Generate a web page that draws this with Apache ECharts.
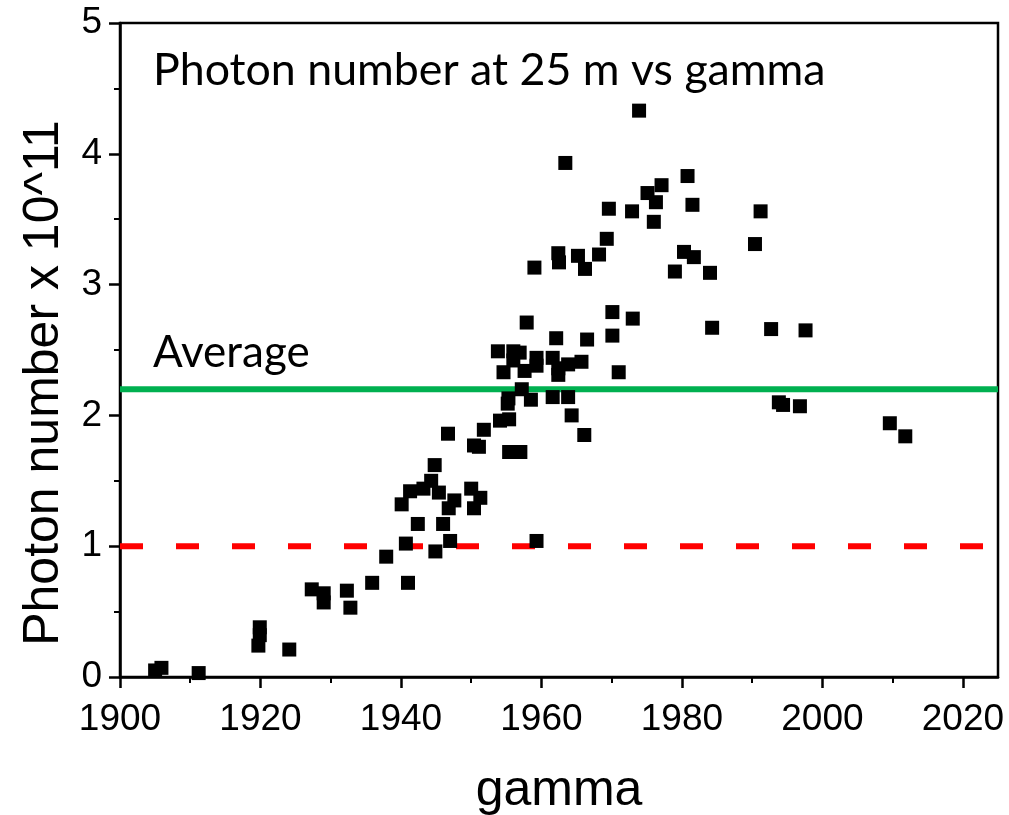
<!DOCTYPE html>
<html>
<head>
<meta charset="utf-8">
<script src="https://cdn.jsdelivr.net/npm/echarts@6/dist/echarts.min.js"></script>
<style>
  html, body { margin: 0; padding: 0; background: #fff; }
  #chart { width: 1009px; height: 815px; }
</style>
</head>
<body>
<div id="chart"></div>
<script>
// Measured photon numbers (in units of 10^11) at 25 m, one entry per gamma value
const gammaValues = [
  1905.0, 1905.9, 1911.2, 1919.9, 1919.9, 1919.7, 1924.1, 1927.3, 1929.0, 1929.0,
  1932.3, 1932.8, 1935.9, 1937.9, 1940.1, 1940.7, 1941.0, 1941.3, 1942.4, 1943.2,
  1944.3, 1944.8, 1944.9, 1945.4, 1946.0, 1946.7, 1946.8, 1947.0, 1947.6, 1950.0,
  1950.4, 1950.4, 1951.1, 1951.3, 1951.8, 1953.8, 1954.1, 1954.6, 1955.2, 1955.3,
  1955.4, 1955.4, 1956.0, 1956.0, 1956.9, 1957.0, 1957.2, 1957.6, 1957.9, 1958.5,
  1959.0, 1959.3, 1959.3, 1959.3, 1961.6, 1961.6, 1962.1, 1962.4, 1962.5, 1962.4,
  1962.4, 1963.4, 1963.8, 1963.8, 1964.3, 1965.2, 1965.7, 1966.1, 1966.2, 1966.5,
  1968.2, 1969.3, 1969.6, 1970.1, 1970.1, 1971.0, 1972.9, 1973.0, 1973.9, 1975.1,
  1976.0, 1976.3, 1977.1, 1979.0, 1980.3, 1980.8, 1981.5, 1981.7, 1984.0, 1984.3,
  1990.4, 1991.2, 1992.7, 1993.8, 1994.4, 1996.8, 1997.6, 2009.6, 2011.8
];
const photonNumbers = [
  0.05, 0.07, 0.03, 0.38, 0.32, 0.24, 0.21, 0.67, 0.64, 0.57,
  0.66, 0.53, 0.72, 0.92, 1.32, 1.02, 0.72, 1.42, 1.17, 1.44,
  1.50, 1.62, 0.96, 1.41, 1.17, 1.86, 1.29, 1.04, 1.35, 1.44,
  1.29, 1.77, 1.76, 1.37, 1.89, 2.49, 1.96, 2.33, 2.09, 2.13,
  1.97, 1.72, 2.49, 2.42, 2.48, 1.72, 2.20, 2.34, 2.71, 2.12,
  3.13, 2.44, 2.38, 1.04, 2.44, 2.14, 2.59, 3.24, 3.17, 2.36,
  2.31, 3.93, 2.39, 2.14, 2.00, 3.22, 2.41, 1.85, 3.12, 2.58,
  3.23, 3.35, 3.58, 2.79, 2.61, 2.33, 3.56, 2.74, 4.33, 3.70,
  3.48, 3.63, 3.76, 3.10, 3.25, 3.83, 3.61, 3.21, 3.09, 2.67,
  3.31, 3.56, 2.66, 2.10, 2.08, 2.07, 2.65, 1.94, 1.84
];

// Reference levels
const averageLevel = 2.2;
const thresholdLevel = 1.0;

// Axis ticks
const xMajorTicks = [1900, 1920, 1940, 1960, 1980, 2000, 2020];
const xMinorTicks = [1910, 1930, 1950, 1970, 1990, 2010];
const xRange = [1900, 2025];
const yRange = [0, 5];

// Text
const chartTitle = 'Photon number at 25 m vs gamma';
const averageLabel = 'Average';
const xName = 'gamma';
const yName = 'Photon number x 10^11';

const points = gammaValues.map((g, i) => [g, photonNumbers[i]]);

const chart = echarts.init(document.getElementById('chart'), null, { renderer: 'canvas' });

const tickFont = { fontFamily: 'Liberation Sans', fontSize: 37, color: '#000' };
const nameFont = { fontFamily: 'Liberation Sans', fontSize: 50, color: '#000' };

chart.setOption({
  animation: false,
  backgroundColor: '#fff',
  grid: {
    left: 120, right: 11, top: 23, bottom: 138,
    outerBoundsMode: 'none', containLabel: false,
    show: true, borderColor: '#000', borderWidth: 2.5, backgroundColor: 'transparent'
  },
  xAxis: [
    {
      type: 'value', min: xRange[0], max: xRange[1], interval: 20,
      position: 'bottom',
      name: xName, nameLocation: 'middle', nameGap: 89,
      nameTextStyle: nameFont,
      axisLine: { show: true, onZero: false, lineStyle: { color: '#000', width: 2.5 } },
      axisTick: { show: true, customValues: xMajorTicks, length: 11, lineStyle: { color: '#000', width: 2.5 } },
      axisLabel: Object.assign({ customValues: xMajorTicks, margin: 24, formatter: v => String(v) }, tickFont),
      splitLine: { show: false }
    },
    {
      type: 'value', min: xRange[0], max: xRange[1],
      position: 'bottom',
      axisLine: { show: false },
      axisTick: { show: true, customValues: xMinorTicks, length: 6, lineStyle: { color: '#000', width: 2 } },
      axisLabel: { show: false },
      splitLine: { show: false }
    }
  ],
  yAxis: {
    type: 'value', min: yRange[0], max: yRange[1], interval: 1,
    axisLine: { show: true, onZero: false, lineStyle: { color: '#000', width: 2.5 } },
    axisTick: { show: true, length: 11, lineStyle: { color: '#000', width: 2.5 } },
    minorTick: { show: true, splitNumber: 2, length: 6, lineStyle: { color: '#000', width: 2 } },
    axisLabel: Object.assign({ margin: 18 }, tickFont),
    splitLine: { show: false },
    minorSplitLine: { show: false }
  },
  series: [
    {
      name: 'threshold', type: 'line', xAxisIndex: 0,
      data: [[xRange[0], thresholdLevel], [xRange[1], thresholdLevel]],
      symbol: 'none', silent: true, z: 1,
      lineStyle: { color: '#ff0000', width: 6, type: [23, 33] }
    },
    {
      name: 'average', type: 'line', xAxisIndex: 0,
      data: [[xRange[0], averageLevel], [xRange[1], averageLevel]],
      symbol: 'none', silent: true, z: 1,
      lineStyle: { color: '#00b050', width: 6 }
    },
    {
      name: 'photons', type: 'scatter', xAxisIndex: 0,
      data: points,
      symbol: 'rect', symbolSize: 14, z: 3,
      itemStyle: { color: '#000', opacity: 1 }
    }
  ],
  graphic: [
    {
      type: 'text', left: 153, top: 48,
      style: { text: chartTitle, font: '44.7px Lato', fill: '#000' }
    },
    {
      type: 'text', left: 153, top: 331,
      style: { text: averageLabel, font: '44px Lato', fill: '#000' }
    },
    {
      // vertical axis title
      type: 'text', x: 44, y: 383, rotation: Math.PI / 2,
      style: {
        text: yName, fontFamily: 'Liberation Sans', fontSize: 50, fill: '#000',
        align: 'center', verticalAlign: 'middle'
      }
    }
  ]
});
</script>
</body>
</html>
